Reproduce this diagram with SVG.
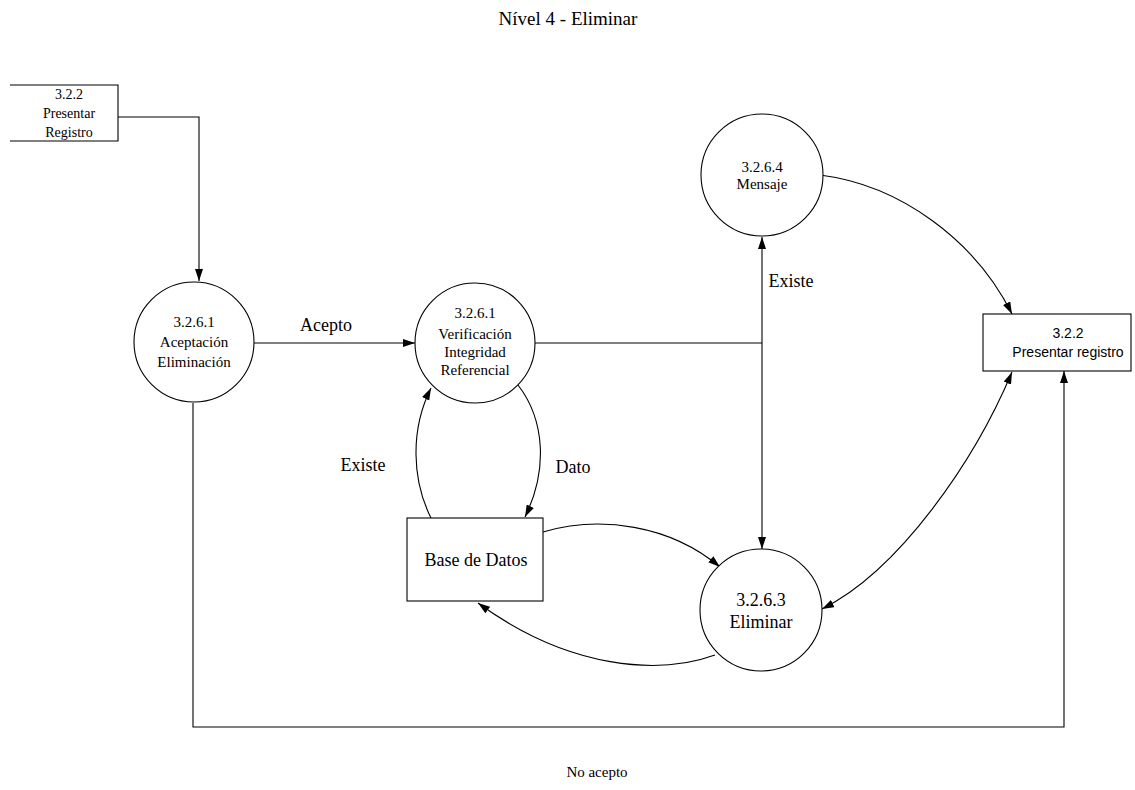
<svg xmlns="http://www.w3.org/2000/svg" width="1135" height="790" viewBox="0 0 1135 790">
  <style>
    .shape { fill: #ffffff; stroke: #000000; stroke-width: 1.1; }
    .flow { fill: none; stroke: #000000; stroke-width: 1.1; }
    .serif { font-family: "Liberation Serif", "Times New Roman", serif; fill: #000000; text-anchor: middle; }
    .sans { font-family: "Liberation Sans", Arial, sans-serif; fill: #000000; text-anchor: middle; }
  </style>
  <defs>
    <marker id="arrow" viewBox="0 0 12 8" refX="12" refY="4" markerWidth="12" markerHeight="8" markerUnits="userSpaceOnUse" orient="auto-start-reverse">
      <path d="M0,0 L12,4 L0,8 z" fill="#000000"/>
    </marker>
  </defs>
  <rect width="1135" height="790" fill="#ffffff"/>

  <text class="serif" x="568" y="25" font-size="19">Nível 4 - Eliminar</text>

  <!-- connectors -->
  <g id="connectors">
    <path class="flow" d="M118,117 H199 V281" marker-end="url(#arrow)"/>
    <path class="flow" d="M254,343 H415" marker-end="url(#arrow)"/>
    <path class="flow" d="M535,343 H762"/>
    <path class="flow" d="M762,237 V549" marker-start="url(#arrow)" marker-end="url(#arrow)"/>
    <path class="flow" d="M431,518 C412,480 410,430 431,388" marker-end="url(#arrow)"/>
    <path class="flow" d="M518,385 C545,420 548,470 525,517" marker-end="url(#arrow)"/>
    <path class="flow" d="M543,532 C600,515 670,525 720,567" marker-end="url(#arrow)"/>
    <path class="flow" d="M715,655 C660,675 570,670 478,603" marker-end="url(#arrow)"/>
    <path class="flow" d="M820,175 C900,185 975,240 1012,314" marker-end="url(#arrow)"/>
    <path class="flow" d="M822,609 C900,570 975,460 1012,372" marker-start="url(#arrow)" marker-end="url(#arrow)"/>
    <path class="flow" d="M193,403 V727 H1064 V371" marker-end="url(#arrow)"/>

    <text class="serif" x="326" y="331" font-size="18">Acepto</text>
    <text class="serif" x="791" y="287" font-size="18">Existe</text>
    <text class="serif" x="363" y="471" font-size="18">Existe</text>
    <text class="serif" x="573" y="473" font-size="18">Dato</text>
    <text class="serif" x="597" y="777" font-size="15">No acepto</text>
  </g>

  <!-- external entity: Presentar Registro (top left, open left side) -->
  <g id="entity-presentar-registro-top">
    <path class="flow" d="M10,85 H118 V141 H10"/>
    <text class="serif" x="69" y="99" font-size="14">3.2.2</text>
    <text class="serif" x="69" y="118" font-size="14">Presentar</text>
    <text class="serif" x="69" y="137" font-size="14">Registro</text>
  </g>

  <g id="process-aceptacion">
    <circle class="shape" cx="194" cy="342" r="60"/>
    <text class="serif" x="194" y="327" font-size="15">3.2.6.1</text>
    <text class="serif" x="194" y="347" font-size="15">Aceptación</text>
    <text class="serif" x="194" y="367" font-size="15">Eliminación</text>
  </g>

  <g id="process-verificacion">
    <circle class="shape" cx="475" cy="343" r="60"/>
    <text class="serif" x="475" y="318" font-size="15">3.2.6.1</text>
    <text class="serif" x="475" y="339" font-size="15">Verificación</text>
    <text class="serif" x="475" y="357" font-size="15">Integridad</text>
    <text class="serif" x="475" y="375" font-size="15">Referencial</text>
  </g>

  <g id="process-mensaje">
    <circle class="shape" cx="762" cy="175" r="61"/>
    <text class="serif" x="762" y="172" font-size="15">3.2.6.4</text>
    <text class="serif" x="762" y="189" font-size="15">Mensaje</text>
  </g>

  <g id="process-eliminar">
    <circle class="shape" cx="761" cy="610" r="61"/>
    <text class="serif" x="761" y="606" font-size="18">3.2.6.3</text>
    <text class="serif" x="761" y="628" font-size="18">Eliminar</text>
  </g>

  <g id="store-base-datos">
    <rect class="shape" x="407" y="518" width="136" height="83"/>
    <text class="serif" x="476" y="566" font-size="18">Base de Datos</text>
  </g>

  <g id="entity-presentar-registro">
    <rect class="shape" x="983" y="314" width="148" height="57"/>
    <text class="sans" x="1068" y="338" font-size="14">3.2.2</text>
    <text class="sans" x="1068" y="357" font-size="14">Presentar registro</text>
  </g>
</svg>
